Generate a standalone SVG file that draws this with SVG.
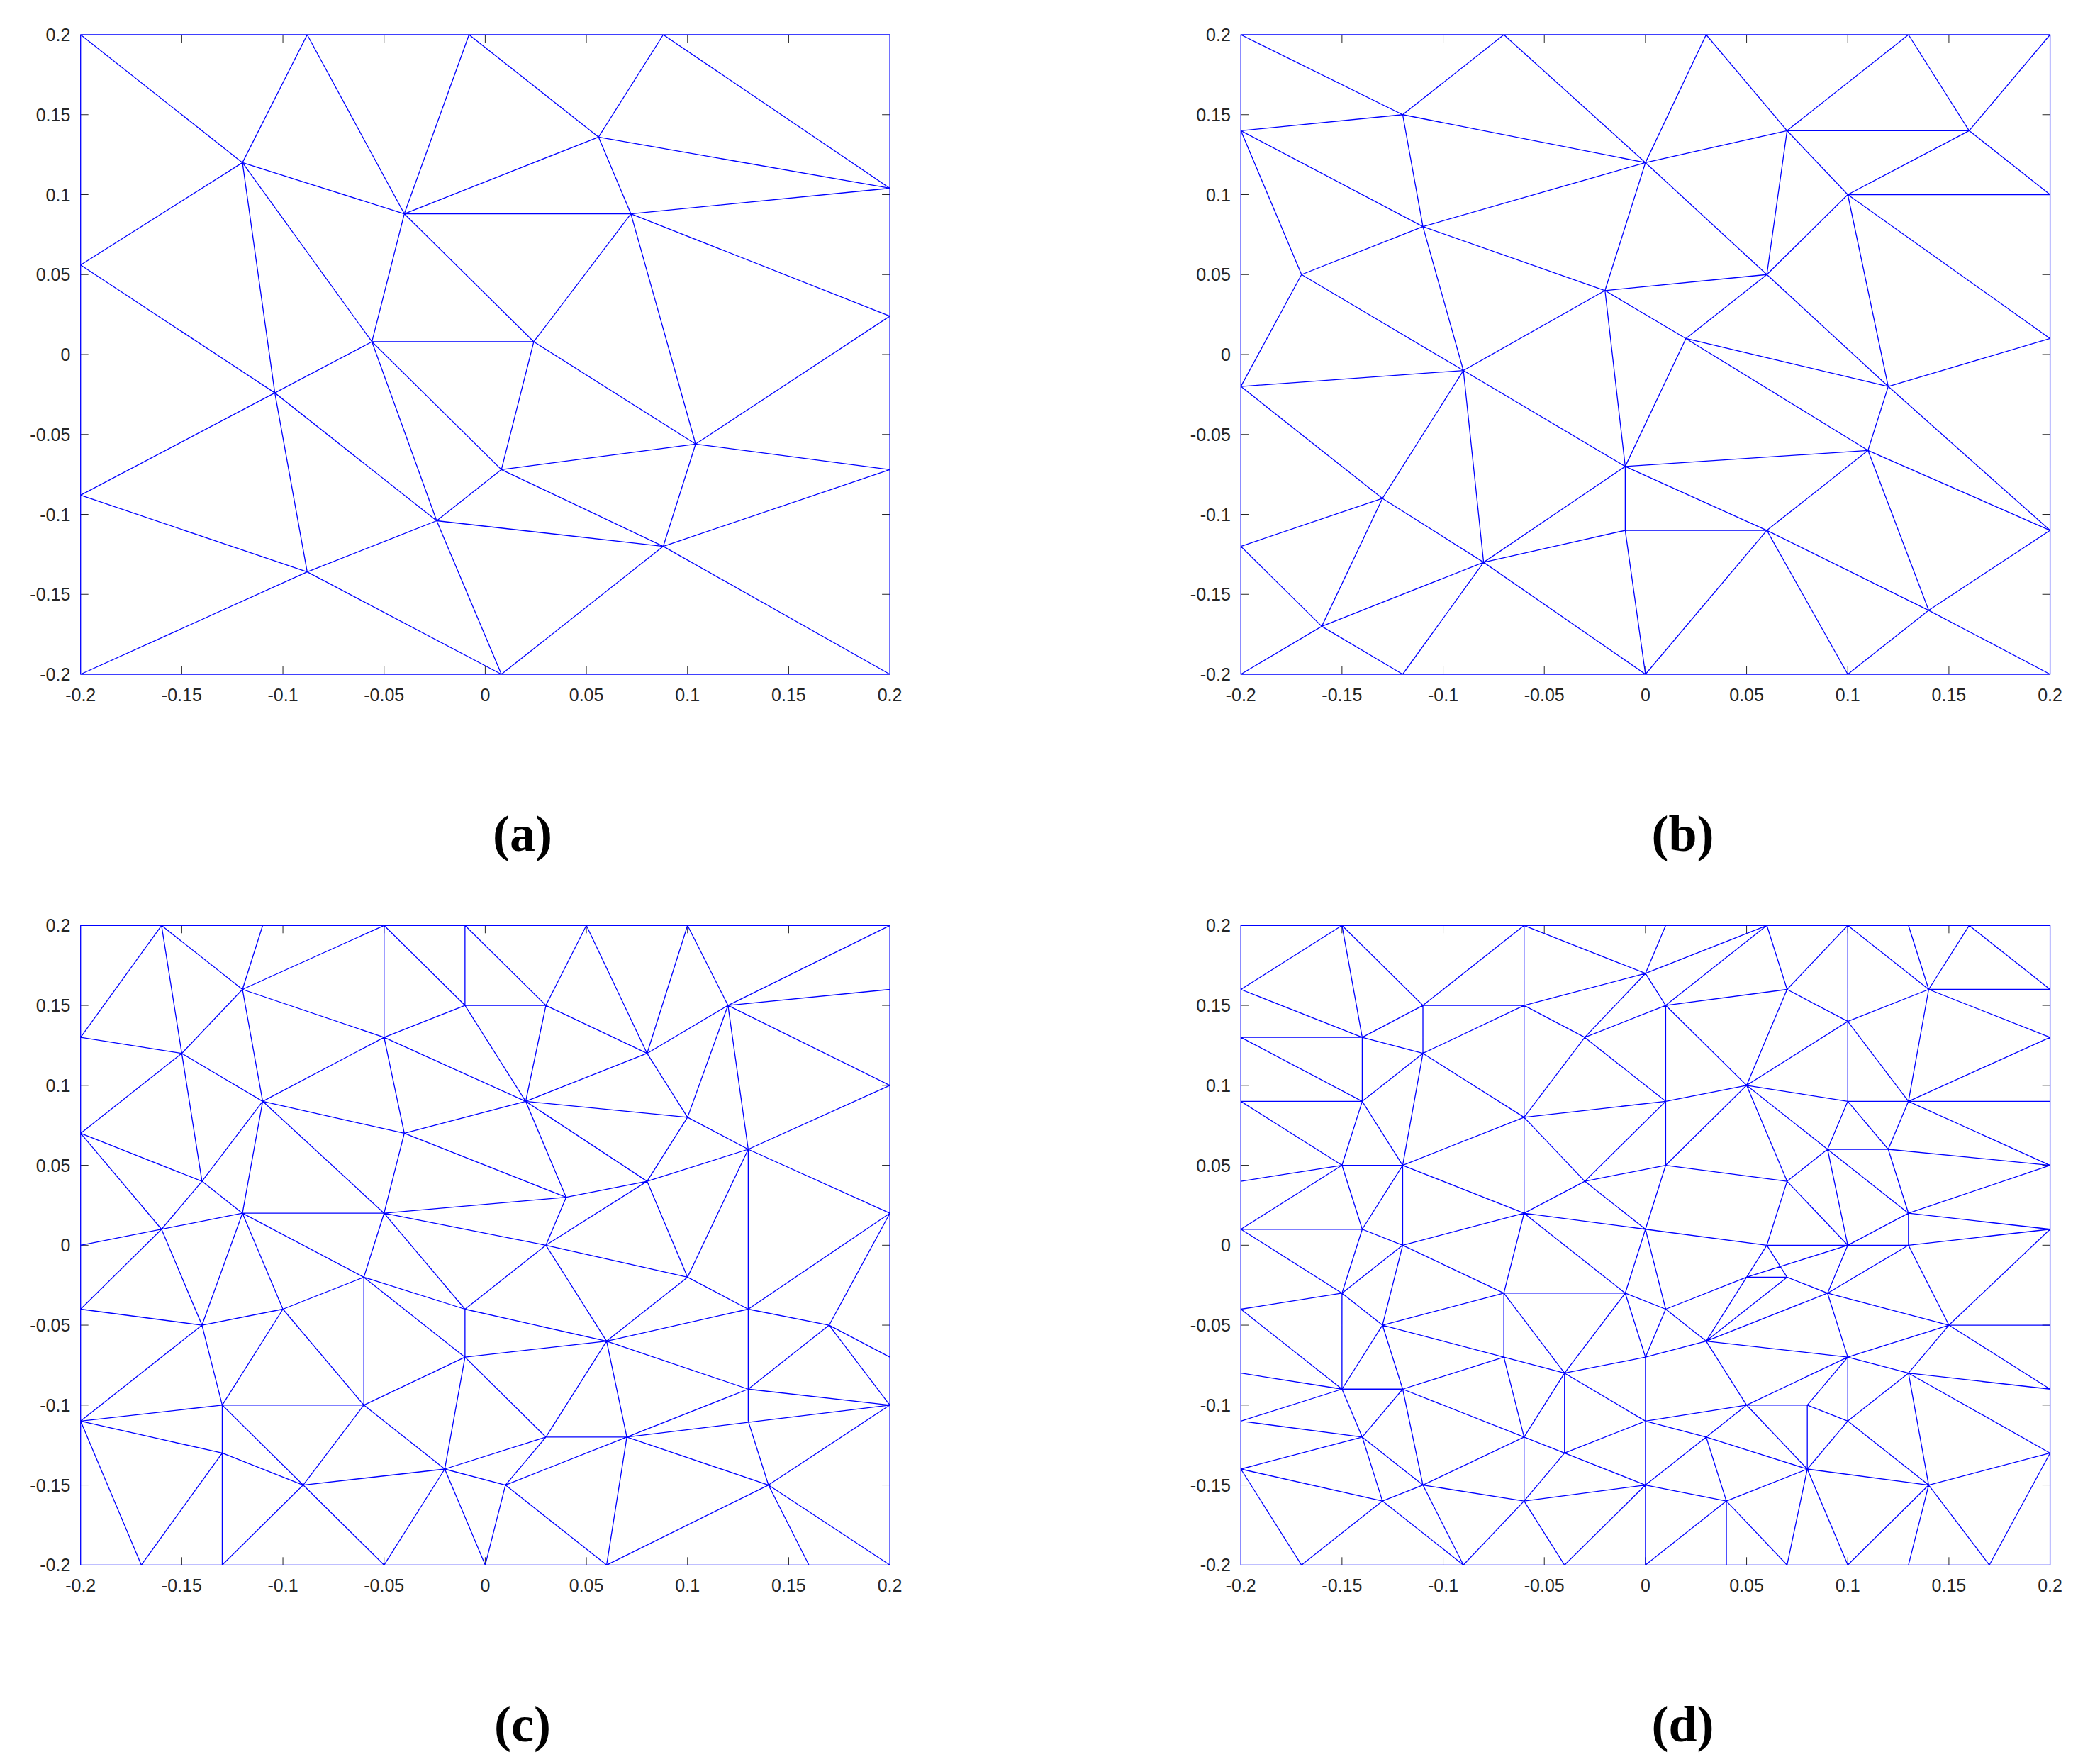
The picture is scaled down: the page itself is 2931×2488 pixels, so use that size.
<svg xmlns="http://www.w3.org/2000/svg" xmlns:xlink="http://www.w3.org/1999/xlink" width="2931" height="2488" viewBox="0 0 2931 2488">
<style>
.m{fill:none;stroke:#0000ff;stroke-width:1.3;vector-effect:non-scaling-stroke;stroke-linejoin:round}
.tk{fill:none;stroke:#262626;stroke-width:1}
.lx{font-family:"Liberation Sans",Arial,sans-serif;font-size:25px;fill:#262626;text-anchor:middle}
.ly{font-family:"Liberation Sans",Arial,sans-serif;font-size:25px;fill:#262626;text-anchor:end}
.cap{font-family:"Liberation Serif","DejaVu Serif",serif;font-weight:bold;font-size:72px;fill:#000;text-anchor:middle}
</style>
<defs>
<g id="ax">
<path class="tk" d="M142.675 902v-11M285.35 902v-11M428.025 902v-11M570.7 902v-11M713.375 902v-11M856.05 902v-11M998.725 902v-11M142.675 0v11M285.35 0v11M428.025 0v11M570.7 0v11M713.375 0v11M856.05 0v11M998.725 0v11M0 112.75h11M0 225.5h11M0 338.25h11M0 451h11M0 563.75h11M0 676.5h11M0 789.25h11M1141.4 112.75h-11M1141.4 225.5h-11M1141.4 338.25h-11M1141.4 451h-11M1141.4 563.75h-11M1141.4 676.5h-11M1141.4 789.25h-11"/>
<text class="lx" x="0" y="939.6">-0.2</text>
<text class="lx" x="142.675" y="939.6">-0.15</text>
<text class="lx" x="285.35" y="939.6">-0.1</text>
<text class="lx" x="428.025" y="939.6">-0.05</text>
<text class="lx" x="570.7" y="939.6">0</text>
<text class="lx" x="713.375" y="939.6">0.05</text>
<text class="lx" x="856.05" y="939.6">0.1</text>
<text class="lx" x="998.725" y="939.6">0.15</text>
<text class="lx" x="1141.4" y="939.6">0.2</text>
<text class="ly" x="-14.4" y="9">0.2</text>
<text class="ly" x="-14.4" y="121.75">0.15</text>
<text class="ly" x="-14.4" y="234.5">0.1</text>
<text class="ly" x="-14.4" y="347.25">0.05</text>
<text class="ly" x="-14.4" y="460">0</text>
<text class="ly" x="-14.4" y="572.75">-0.05</text>
<text class="ly" x="-14.4" y="685.5">-0.1</text>
<text class="ly" x="-14.4" y="798.25">-0.15</text>
<text class="ly" x="-14.4" y="911">-0.2</text>
</g>
</defs>

<g id="panel-a" transform="translate(113.7,49)">
<use xlink:href="#ax"/>
<g transform="matrix(2853.5 0 0 -2255 570.7 451)">
<path class="m" d="M-0.2 -0.2H0.2V0.2H-0.2Z
M-0.2 0.2L-0.12 0.12M-0.12 0.12L-0.088 0.2M-0.088 0.2L-0.04 0.088M-0.04 0.088L-0.008 0.2M-0.008 0.2L0.056 0.136M0.056 0.136L0.088 0.2M0.088 0.2L0.2 0.104M0.056 0.136L0.2 0.104M0.056 0.136L-0.04 0.088M0.056 0.136L0.072 0.088M-0.04 0.088H0.072M0.072 0.088L0.2 0.104
M-0.12 0.12L-0.04 0.088M-0.12 0.12L-0.2 0.056M-0.12 0.12L-0.104 -0.024M-0.12 0.12L-0.056 0.008M-0.04 0.088L-0.056 0.008M-0.04 0.088L0.024 0.008M0.072 0.088L0.024 0.008M0.072 0.088L0.2 0.024M0.072 0.088L0.104 -0.056M-0.056 0.008H0.024
M-0.2 0.056L-0.104 -0.024M-0.056 0.008L-0.104 -0.024M-0.104 -0.024L-0.2 -0.088M-0.104 -0.024L-0.088 -0.136M-0.104 -0.024L-0.024 -0.104M-0.056 0.008L-0.024 -0.104M-0.056 0.008L0.008 -0.072M0.024 0.008L0.008 -0.072M0.024 0.008L0.104 -0.056M0.2 0.024L0.104 -0.056
M0.104 -0.056L0.008 -0.072M0.104 -0.056L0.2 -0.072M0.104 -0.056L0.088 -0.12M0.008 -0.072L-0.024 -0.104M0.008 -0.072L0.088 -0.12M0.2 -0.072L0.088 -0.12M-0.024 -0.104L0.088 -0.12M-0.024 -0.104L-0.088 -0.136M-0.024 -0.104L0.008 -0.2M-0.2 -0.088L-0.088 -0.136M-0.088 -0.136L-0.2 -0.2M-0.088 -0.136L0.008 -0.2M0.088 -0.12L0.008 -0.2M0.088 -0.12L0.2 -0.2"/>
</g>
<text class="cap" x="623.3" y="1151">(a)</text>
</g>

<g id="panel-b" transform="translate(1750.2,49)">
<use xlink:href="#ax"/>
<g transform="matrix(2853.5 0 0 -2255 570.7 451)">
<path class="m" d="M-0.2 -0.2H0.2V0.2H-0.2Z
M-0.2 0.2L-0.12 0.15M-0.12 0.15L-0.07 0.2M-0.07 0.2L0 0.12M0 0.12L0.03 0.2M0.03 0.2L0.07 0.14M0.07 0.14L0.13 0.2M0.13 0.2L0.16 0.14M0.16 0.14L0.2 0.2
M-0.2 0.14L-0.12 0.15M-0.12 0.15L0 0.12M-0.12 0.15L-0.11 0.08M-0.2 0.14L-0.11 0.08M-0.2 0.14L-0.17 0.05M0 0.12L0.07 0.14M0 0.12L-0.11 0.08M0 0.12L-0.02 0.04M0 0.12L0.06 0.05
M0.07 0.14H0.16M0.07 0.14L0.1 0.1M0.07 0.14L0.06 0.05M0.16 0.14L0.1 0.1M0.16 0.14L0.2 0.1M0.1 0.1H0.2M0.1 0.1L0.06 0.05M0.1 0.1L0.12 -0.02M0.1 0.1L0.2 0.01
M-0.11 0.08L-0.17 0.05M-0.11 0.08L-0.02 0.04M-0.11 0.08L-0.09 -0.01M-0.17 0.05L-0.09 -0.01M-0.17 0.05L-0.2 -0.02M-0.02 0.04L0.06 0.05M-0.02 0.04L-0.09 -0.01M-0.02 0.04L0.02 0.01M-0.02 0.04L-0.01 -0.07
M0.06 0.05L0.02 0.01M0.06 0.05L0.12 -0.02M0.02 0.01L0.12 -0.02M0.02 0.01L-0.01 -0.07M0.02 0.01L0.11 -0.06M0.2 0.01L0.12 -0.02M0.12 -0.02L0.11 -0.06M0.12 -0.02L0.2 -0.11
M-0.09 -0.01L-0.2 -0.02M-0.09 -0.01L-0.01 -0.07M-0.09 -0.01L-0.13 -0.09M-0.09 -0.01L-0.08 -0.13M-0.2 -0.02L-0.13 -0.09
M-0.01 -0.07L0.11 -0.06M-0.01 -0.07V-0.11M-0.01 -0.07L0.06 -0.11M-0.01 -0.07L-0.08 -0.13M0.11 -0.06L0.06 -0.11M0.11 -0.06L0.2 -0.11M0.11 -0.06L0.14 -0.16
M-0.01 -0.11H0.06M-0.01 -0.11L-0.08 -0.13M-0.01 -0.11L0 -0.2M0.06 -0.11L0 -0.2M0.06 -0.11L0.1 -0.2M0.06 -0.11L0.14 -0.16M0.2 -0.11L0.14 -0.16M0.14 -0.16L0.1 -0.2M0.14 -0.16L0.2 -0.2
M-0.13 -0.09L-0.2 -0.12M-0.13 -0.09L-0.08 -0.13M-0.13 -0.09L-0.16 -0.17M-0.2 -0.12L-0.16 -0.17M-0.08 -0.13L-0.16 -0.17M-0.08 -0.13L-0.12 -0.2M-0.08 -0.13L0 -0.2M-0.16 -0.17L-0.2 -0.2M-0.16 -0.17L-0.12 -0.2"/>
</g>
<text class="cap" x="623.3" y="1151">(b)</text>
</g>

<g id="panel-c" transform="translate(113.7,1305.3)">
<use xlink:href="#ax"/>
<g transform="matrix(2853.5 0 0 -2255 570.7 451)">
<path class="m" d="M-0.2 -0.2H0.2V0.2H-0.2Z
M-0.2 0.13L-0.16 0.2M-0.16 0.2L-0.15 0.12M-0.15 0.12L-0.14 0.04M-0.16 0.2L-0.12 0.16M-0.11 0.2L-0.12 0.16M-0.05 0.2L-0.12 0.16M-0.05 0.2V0.13M-0.05 0.2L-0.01 0.15M-0.01 0.2V0.15M-0.01 0.2L0.03 0.15M-0.01 0.15H0.03M-0.01 0.15L-0.05 0.13M-0.01 0.15L0.02 0.09
M-0.12 0.16L-0.05 0.13M-0.12 0.16L-0.11 0.09M-0.12 0.16L-0.15 0.12M-0.2 0.13L-0.15 0.12M-0.15 0.12L-0.2 0.07M-0.15 0.12L-0.11 0.09M-0.05 0.13L-0.11 0.09M-0.05 0.13L-0.04 0.07M-0.05 0.13L0.02 0.09
M-0.11 0.09L-0.04 0.07M-0.11 0.09L-0.14 0.04M-0.11 0.09L-0.12 0.02M-0.11 0.09L-0.05 0.02M-0.2 0.07L-0.14 0.04M-0.2 0.07L-0.16 0.01M-0.04 0.07L-0.05 0.02M-0.04 0.07L0.02 0.09M-0.04 0.07L0.04 0.03
M-0.14 0.04L-0.12 0.02M-0.14 0.04L-0.16 0.01M-0.12 0.02H-0.05M-0.2 0L-0.12 0.02M-0.12 0.02L-0.14 -0.05M-0.12 0.02L-0.1 -0.04M-0.12 0.02L-0.06 -0.02M-0.05 0.02L0.04 0.03M-0.05 0.02L0.03 0M-0.05 0.02L-0.06 -0.02M-0.05 0.02L-0.01 -0.04
M-0.16 0.01L-0.14 -0.05M-0.16 0.01L-0.2 -0.04M-0.2 -0.04L-0.14 -0.05M-0.1 -0.04L-0.14 -0.05M-0.1 -0.04L-0.06 -0.02M-0.1 -0.04L-0.13 -0.1M-0.1 -0.04L-0.06 -0.1M-0.06 -0.02L-0.01 -0.04M-0.06 -0.02L-0.01 -0.07M-0.06 -0.02V-0.1
M-0.01 -0.04V-0.07M-0.01 -0.04L0.06 -0.06M-0.01 -0.07L0.06 -0.06M-0.01 -0.07L0.03 -0.12M-0.01 -0.07L-0.02 -0.14M-0.01 -0.07L-0.06 -0.1
M-0.2 -0.11L-0.14 -0.05M-0.2 -0.11L-0.13 -0.1M-0.2 -0.11L-0.13 -0.13M-0.2 -0.11L-0.17 -0.2M-0.14 -0.05L-0.13 -0.1M-0.13 -0.1H-0.06M-0.13 -0.1V-0.2M-0.13 -0.1L-0.09 -0.15M-0.13 -0.13L-0.09 -0.15M-0.13 -0.13L-0.17 -0.2
M-0.06 -0.1L-0.09 -0.15M-0.06 -0.1L-0.02 -0.14M-0.09 -0.15L-0.13 -0.2M-0.09 -0.15L-0.05 -0.2M-0.09 -0.15L-0.02 -0.14M-0.02 -0.14L-0.05 -0.2M-0.02 -0.14L0 -0.2M-0.02 -0.14L0.03 -0.12M-0.02 -0.14L0.01 -0.15M0 -0.2L0.01 -0.15
M0.03 0.15L0.05 0.2M0.05 0.2L0.08 0.12M0.1 0.2L0.08 0.12M0.1 0.2L0.12 0.15M0.2 0.2L0.12 0.15M0.12 0.15L0.2 0.16M0.12 0.15L0.2 0.1M0.12 0.15L0.08 0.12M0.12 0.15L0.1 0.08M0.12 0.15L0.13 0.06
M0.03 0.15L0.08 0.12M0.03 0.15L0.02 0.09M0.02 0.09L0.08 0.12M0.02 0.09L0.1 0.08M0.02 0.09L0.08 0.04M0.02 0.09L0.04 0.03M0.08 0.12L0.1 0.08M0.1 0.08L0.13 0.06M0.1 0.08L0.08 0.04
M0.13 0.06L0.2 0.1M0.13 0.06L0.2 0.02M0.13 0.06L0.08 0.04M0.13 0.06V-0.11M0.04 0.03L0.08 0.04M0.04 0.03L0.03 0M0.08 0.04L0.03 0M0.08 0.04L0.1 -0.02M0.13 0.06L0.1 -0.02
M0.03 0L-0.01 -0.04M0.03 0L0.06 -0.06M0.03 0L0.1 -0.02M0.06 -0.06L0.1 -0.02M0.1 -0.02L0.13 -0.04M0.13 -0.04L0.2 0.02M0.2 0.02L0.17 -0.05M0.13 -0.04L0.17 -0.05M0.13 -0.04L0.06 -0.06
M0.17 -0.05L0.2 -0.07M0.17 -0.05L0.2 -0.1M0.17 -0.05L0.13 -0.09M0.06 -0.06L0.13 -0.09M0.13 -0.09L0.2 -0.1M0.06 -0.06L0.03 -0.12M0.06 -0.06L0.07 -0.12M0.03 -0.12H0.07M0.03 -0.12L0.01 -0.15
M0.01 -0.15L0.07 -0.12M0.01 -0.15L0.06 -0.2M0.07 -0.12L0.06 -0.2M0.07 -0.12L0.13 -0.09M0.07 -0.12L0.2 -0.1M0.07 -0.12L0.14 -0.15M0.06 -0.2L0.14 -0.15M0.13 -0.11L0.14 -0.15M0.14 -0.15L0.2 -0.1M0.14 -0.15L0.16 -0.2M0.14 -0.15L0.2 -0.2"/>
</g>
<text class="cap" x="623.3" y="1151">(c)</text>
</g>

<g id="panel-d" transform="translate(1750.2,1305.3)">
<use xlink:href="#ax"/>
<g transform="matrix(2853.5 0 0 -2255 570.7 451)">
<path class="m" d="M-0.2 -0.2H0.2V0.2H-0.2Z
M-0.2 0.16L-0.15 0.2M-0.15 0.2L-0.11 0.15M-0.15 0.2L-0.14 0.13M-0.06 0.2L-0.11 0.15M-0.06 0.2V0.02M-0.06 0.2L0 0.17M-0.2 0.16L-0.14 0.13M-0.11 0.15H-0.06M-0.11 0.15V0.12M-0.11 0.15L-0.14 0.13M-0.06 0.15L-0.11 0.12M-0.06 0.15L0 0.17M-0.06 0.15L-0.03 0.13
M0 0.17L-0.03 0.13M0 0.17L0.01 0.2M0 0.17L0.06 0.2M0 0.17L0.01 0.15M-0.2 0.13H-0.14M-0.2 0.13L-0.14 0.09M-0.14 0.13L-0.11 0.12M-0.14 0.13V0.09M-0.11 0.12L-0.14 0.09M-0.11 0.12L-0.12 0.05M-0.11 0.12L-0.06 0.08
M-0.03 0.13L-0.06 0.08M-0.03 0.13L0.01 0.15M-0.03 0.13L0.01 0.09M-0.2 0.09H-0.14M-0.2 0.09L-0.15 0.05M-0.14 0.09L-0.15 0.05M-0.14 0.09L-0.12 0.05M-0.06 0.08L-0.12 0.05M-0.06 0.08L-0.03 0.04M-0.06 0.08L0.01 0.09
M-0.2 0.04L-0.15 0.05M-0.15 0.05H-0.12M-0.15 0.05L-0.2 0.01M-0.15 0.05L-0.14 0.01M-0.12 0.05L-0.14 0.01M-0.12 0.05V0M-0.12 0.05L-0.06 0.02M-0.03 0.04L0.01 0.09M-0.03 0.04L0.01 0.05M-0.03 0.04L-0.06 0.02M-0.03 0.04L0 0.01
M-0.06 0.02L0 0.01M-0.06 0.02L-0.12 0M-0.06 0.02L-0.07 -0.03M-0.06 0.02L-0.01 -0.03M-0.2 0.01H-0.14M-0.2 0.01L-0.15 -0.03M-0.14 0.01L-0.12 0M-0.14 0.01L-0.15 -0.03M-0.12 0L-0.15 -0.03M-0.12 0L-0.13 -0.05M-0.12 0L-0.07 -0.03
M0 0.01L-0.01 -0.03M0 0.01L0.06 0M0 0.01L0.01 -0.04M0 0.01L0.01 0.05
M0.01 0.15L0.06 0.2M0.01 0.15L0.07 0.16M0.01 0.15V0.05M0.01 0.15L0.05 0.1M0.06 0.2L0.07 0.16M0.1 0.2L0.07 0.16M0.1 0.2V0.09M0.1 0.2L0.14 0.16M0.13 0.2L0.14 0.16M0.16 0.2L0.14 0.16M0.16 0.2L0.2 0.16
M0.14 0.16H0.2M0.14 0.16L0.2 0.13M0.14 0.16L0.1 0.14M0.14 0.16L0.13 0.09M0.07 0.16L0.1 0.14M0.07 0.16L0.05 0.1M0.1 0.14L0.05 0.1M0.1 0.14L0.13 0.09M0.2 0.13L0.13 0.09
M0.01 0.09L0.05 0.1M0.05 0.1L0.1 0.09M0.05 0.1L0.09 0.06M0.05 0.1L0.07 0.04M0.05 0.1L0.01 0.05M0.1 0.09H0.2M0.1 0.09L0.09 0.06M0.1 0.09L0.12 0.06M0.13 0.09L0.12 0.06M0.13 0.09L0.2 0.05
M0.09 0.06H0.12M0.09 0.06L0.07 0.04M0.09 0.06L0.1 0M0.09 0.06L0.13 0.02M0.12 0.06L0.2 0.05M0.12 0.06L0.13 0.02M0.01 0.05L0.07 0.04M0.07 0.04L0.06 0M0.07 0.04L0.1 0
M0.13 0.02L0.2 0.05M0.13 0.02L0.2 0.01M0.13 0.02L0.1 0M0.13 0.02V0M0.06 0H0.13M0.13 0L0.2 0.01
M-0.15 -0.03L-0.2 -0.04M-0.15 -0.03V-0.09M-0.15 -0.03L-0.13 -0.05M-0.07 -0.03H-0.01M-0.07 -0.03V-0.07M-0.07 -0.03L-0.04 -0.08M-0.07 -0.03L-0.13 -0.05
M-0.01 -0.03L0.01 -0.04M-0.01 -0.03L0 -0.07M-0.01 -0.03L-0.04 -0.08M0 -0.07L-0.04 -0.08M0 -0.07V-0.2M0 -0.11L-0.04 -0.13M0 -0.11L-0.04 -0.08M-0.04 -0.08V-0.13M-0.04 -0.08L-0.07 -0.07M-0.04 -0.08L-0.06 -0.12
M-0.07 -0.07L-0.06 -0.12M-0.07 -0.07L-0.12 -0.09M-0.07 -0.07L-0.13 -0.05M-0.13 -0.05L-0.12 -0.09M-0.13 -0.05L-0.15 -0.09M-0.2 -0.04L-0.15 -0.09M-0.2 -0.08L-0.15 -0.09M-0.15 -0.09H-0.12M-0.15 -0.09L-0.2 -0.11M-0.15 -0.09L-0.14 -0.12
M-0.12 -0.09L-0.14 -0.12M-0.12 -0.09L-0.11 -0.15M-0.12 -0.09L-0.06 -0.12M-0.2 -0.11L-0.14 -0.12M-0.14 -0.12L-0.2 -0.14M-0.14 -0.12L-0.11 -0.15M-0.14 -0.12L-0.13 -0.16
M-0.06 -0.12V-0.16M-0.06 -0.12L-0.11 -0.15M-0.06 -0.12L-0.04 -0.13M-0.04 -0.13L0 -0.15M-0.04 -0.13L-0.06 -0.16M-0.2 -0.14L-0.13 -0.16M-0.2 -0.14L-0.17 -0.2M-0.11 -0.15L-0.13 -0.16M-0.11 -0.15L-0.06 -0.16M-0.11 -0.15L-0.09 -0.2
M-0.13 -0.16L-0.17 -0.2M-0.13 -0.16L-0.09 -0.2M-0.06 -0.16L0 -0.15M-0.06 -0.16L-0.09 -0.2M-0.06 -0.16L-0.04 -0.2M0 -0.15L-0.04 -0.2M0 -0.2L0.04 -0.16
M0.06 0L0.05 -0.02M0.06 0L0.07 -0.02M0.1 0L0.09 -0.03M0.1 0L0.05 -0.02M0.13 0L0.15 -0.05M0.13 0L0.09 -0.03M0.05 -0.02H0.07M0.01 -0.04L0.05 -0.02M0.01 -0.04L0 -0.07M0.01 -0.04L0.03 -0.06
M0.03 -0.06L0.05 -0.02M0.03 -0.06L0.07 -0.02M0.03 -0.06L0.09 -0.03M0.03 -0.06L0.1 -0.07M0.03 -0.06L0 -0.07M0.03 -0.06L0.05 -0.1M0.07 -0.02L0.09 -0.03M0.09 -0.03L0.15 -0.05M0.09 -0.03L0.1 -0.07
M0.15 -0.05H0.2M0.15 -0.05L0.2 -0.09M0.15 -0.05L0.1 -0.07M0.15 -0.05L0.13 -0.08M0.15 -0.05L0.2 0.01M0.1 -0.07L0.13 -0.08M0.1 -0.07V-0.11M0.1 -0.07L0.08 -0.1M0.1 -0.07L0.05 -0.1
M0.13 -0.08L0.2 -0.09M0.13 -0.08L0.1 -0.11M0.13 -0.08L0.14 -0.15M0.13 -0.08L0.2 -0.13M0.05 -0.1H0.08M0.08 -0.1V-0.14M0.08 -0.1L0.1 -0.11M0.05 -0.1L0 -0.11M0.05 -0.1L0.03 -0.12M0.05 -0.1L0.08 -0.14
M0 -0.11L0.03 -0.12M0.1 -0.11L0.08 -0.14M0.1 -0.11L0.14 -0.15M0.03 -0.12L0.08 -0.14M0.03 -0.12L0.04 -0.16M0.03 -0.12L0 -0.15M0 -0.15L0.04 -0.16M0.04 -0.16L0.08 -0.14M0.04 -0.16V-0.2M0.04 -0.16L0.07 -0.2
M0.08 -0.14L0.07 -0.2M0.08 -0.14L0.1 -0.2M0.08 -0.14L0.14 -0.15M0.14 -0.15L0.2 -0.13M0.14 -0.15L0.1 -0.2M0.14 -0.15L0.13 -0.2M0.14 -0.15L0.17 -0.2M0.2 -0.13L0.17 -0.2"/>
</g>
<text class="cap" x="623.3" y="1151">(d)</text>
</g>
</svg>
